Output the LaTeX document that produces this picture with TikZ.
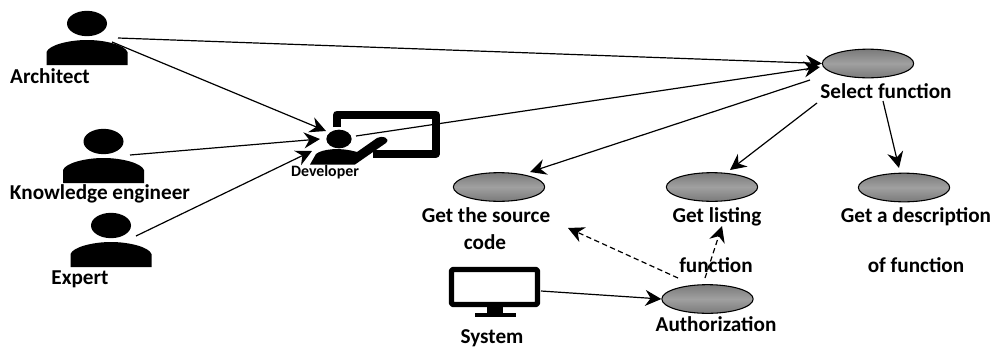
\documentclass[tikz,border=0pt]{standalone}
\usepackage{fontspec}
\setmainfont{Carlito}
\usetikzlibrary{arrows.meta,shapes.geometric}
\tikzset{
  x=0.75pt,y=-0.75pt,
  usecase/.style={ellipse,draw=black,line width=0.8pt,minimum width=68.5pt,minimum height=21.5pt,inner sep=0pt,
    top color=ovalgray,bottom color=ovalgray,middle color=ovallight},
  lab/.style={anchor=base,inner sep=0pt,font=\fontsize{15.9pt}{18pt}\selectfont\bfseries},
  smalllab/.style={anchor=base,inner sep=0pt,font=\fontsize{11.9pt}{13pt}\selectfont\bfseries},
  link/.style={line width=0.9pt,-{Stealth[length=12pt,width=12pt,inset=4pt]}},
  dashlink/.style={link,dash pattern=on 4pt off 2.5pt},
  person/.pic={
    \fill (0,-16.5) ellipse [x radius=15pt,y radius=9.5pt];
    \fill (-40.5,25) -- (-40.5,12) .. controls (-38,5) and (-18,0) .. (0,0)
          .. controls (18,0) and (38,5) .. (40.5,12) -- (40.5,25) -- cycle;
  }
}
\definecolor{ovalgray}{RGB}{122,122,122}
\definecolor{ovallight}{RGB}{160,160,160}
\begin{document}
\begin{tikzpicture}
\useasboundingbox (0,0) rectangle (992,347);
% persons
\pic at (87,40) {person};
\pic at (103.5,158) {person};
\pic at (111,242) {person};
\node[lab] (larch) at (50,83) {Architect};
\node[lab] (lknow) at (100,199) {Knowledge engineer};
\node[lab] (lexp) at (80,284) {Expert};
% developer
\draw[line width=6pt,line join=round,line cap=butt] (337,127) -- (337,114.5) -- (436,114.5) -- (436,153.5) -- (373,153.5);
\fill (339,139) ellipse [x radius=9.5pt,y radius=7pt];
\fill[line join=round] (310,164.5) -- (316,154) .. controls (322,149) and (340,147) .. (357,152)
   -- (377,138) .. controls (382,135) and (391,138) .. (386,143) -- (355,164.5) -- cycle;
\node[smalllab] (ldev) at (325,176) {Developer};
% monitor
\draw[line width=4pt,line join=round,rounded corners=1pt] (451.5,269.5) rectangle (537.5,304.5);
\fill (487,305) rectangle (503,314);
\fill (475,313) rectangle (516,317);
\node[lab] (lsys) at (492,343) {System};
% use cases
\node[usecase] (sel) at (868,63.5) {};
\node[usecase] (src) at (499,187) {};
\node[usecase] (lst) at (712,187) {};
\node[usecase] (dsc) at (904,187.5) {};
\node[usecase] (aut) at (707.5,299) {};
\node[lab] (lsel) at (886,98) {Select function};
\node[lab] (lsrc) at (486,222) {Get the source};
\node[lab] (lcode) at (485,249) {code};
\node[lab] (llst) at (717,222) {Get listing};
\node[lab] (lfun) at (716,272) {function};
\node[lab] (ldsc) at (916,222) {Get a description};
\node[lab] (lof) at (916,272) {of function};
\node[lab] (laut) at (716,331) {Authorization};
% connector ends
\coordinate (a1) at (118,38);
\coordinate (a2) at (112,42);
\coordinate (k1) at (130,155);
\coordinate (e1) at (136,236);
\coordinate (d1) at (356,136);
\coordinate (dIn1) at (326,131);
\coordinate (dIn2) at (320,139);
\coordinate (dIn3) at (312,151);
\coordinate (selIn2) at (820,67);
\coordinate (s1) at (810,80);
\coordinate (s2) at (817,103);
\coordinate (s3) at (883,101);
\coordinate (srcIn) at (530,172);
\coordinate (lstIn) at (730,170);
\coordinate (dscIn) at (899,168);
\coordinate (m1) at (541,291);
\coordinate (x1) at (678,278);
\coordinate (x2) at (705,278);
\coordinate (srcDash) at (568,228);
\coordinate (lstDash) at (722,226);
% connectors
\draw[link] (a1) -- (sel.180);
\draw[link] (a2) -- (dIn1);
\draw[link] (k1) -- (dIn2);
\draw[link] (e1) -- (dIn3);
\draw[link] (d1) -- (selIn2);
\draw[link] (s1) -- (srcIn);
\draw[link] (s2) -- (lstIn);
\draw[link] (s3) -- (dscIn);
\draw[link] (m1) -- (aut.west);
\draw[dashlink] (x1) -- (srcDash);
\draw[dashlink] (x2) -- (lstDash);
\end{tikzpicture}
\end{document}
